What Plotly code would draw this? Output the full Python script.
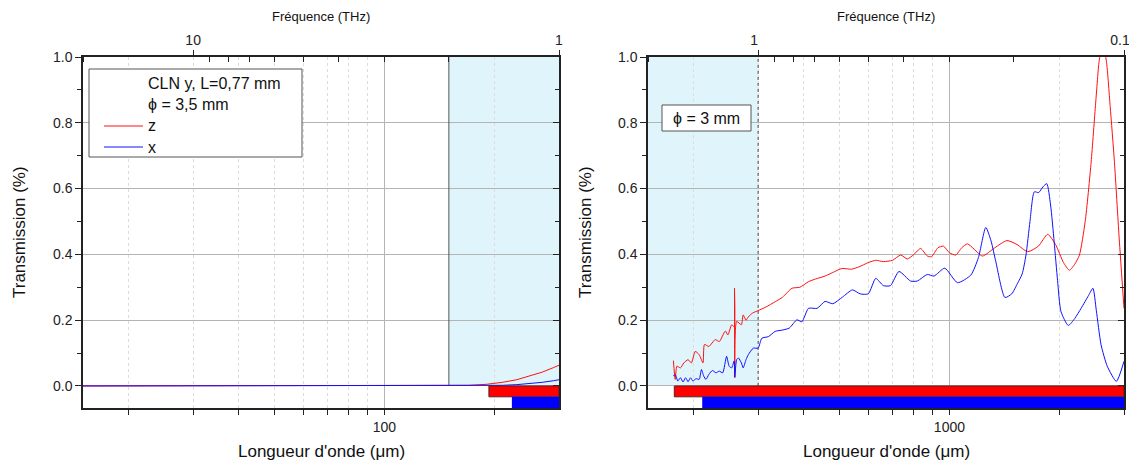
import math
import plotly.graph_objects as go

# ---------------- data ----------------
# Left panel (wavelength in µm, transmission)
lam_left = [15, 20, 30, 50, 80, 120, 150, 170, 190, 210, 230, 250, 270, 290, 300]
z_left = [0.0, 0.0, 0.0, 0.0, 0.0, 0.0, 0.0, 0.002, 0.005, 0.011, 0.019, 0.030, 0.042, 0.056, 0.063]
x_left = [0.0, 0.0, 0.0, 0.0, 0.0, 0.0, 0.0, 0.0, 0.001, 0.002, 0.004, 0.007, 0.011, 0.016, 0.019]

# Right panel, z polarisation
lam_z_right = [176, 178, 180, 184, 188, 193, 197, 202, 207, 212, 214, 220, 229, 235, 244, 248, 254,
               258, 258.5, 259, 262, 270, 273, 278, 282, 290, 300, 315, 334, 350, 371, 390, 412,
               430, 457, 480, 508, 540, 566, 600, 629, 660, 699, 736, 767, 800, 834, 870, 893,
               930, 963, 1000, 1041, 1080, 1120, 1170, 1231, 1330, 1436, 1530, 1636, 1750, 1856,
               1950, 2050, 2128, 2200, 2266, 2350, 2440, 2510, 2570, 2622, 2680, 2750, 2825,
               2910, 3000]
z_right = [0.077, 0.02, 0.06, 0.055, 0.07, 0.08, 0.07, 0.105, 0.095, 0.07, 0.126, 0.12, 0.141,
           0.135, 0.167, 0.155, 0.186, 0.18, 0.297, 0.025, 0.196, 0.186, 0.216, 0.20, 0.21,
           0.222, 0.229, 0.24, 0.256, 0.27, 0.297, 0.30, 0.317, 0.325, 0.334, 0.345, 0.357,
           0.355, 0.362, 0.375, 0.382, 0.378, 0.382, 0.398, 0.386, 0.40, 0.418, 0.395, 0.393,
           0.42, 0.425, 0.405, 0.398, 0.42, 0.432, 0.415, 0.395, 0.42, 0.442, 0.43, 0.408,
           0.425, 0.461, 0.43, 0.375, 0.352, 0.37, 0.398, 0.5, 0.681, 0.86, 0.994, 1.03,
           0.994, 0.85, 0.68, 0.45, 0.236]

# Right panel, x polarisation
lam_x_right = [176, 178, 181, 184, 187, 190, 193, 196, 199, 203, 207, 210, 213, 216, 220, 225,
               230, 235, 240, 246, 250, 254, 258, 259, 262, 265, 270, 273, 278, 282, 291, 300,
               307, 320, 334, 350, 365, 383, 395, 412, 435, 457, 480, 510, 543, 570, 600, 629,
               660, 690, 728, 783, 817, 870, 907, 971, 1052, 1144, 1200, 1257, 1300, 1339,
               1418, 1480, 1535, 1580, 1619, 1660, 1706, 1754, 1800, 1845, 1890, 1933, 1975,
               2018, 2113, 2200, 2290, 2400, 2467, 2520, 2597, 2700, 2859, 3000]
x_right = [0.03, 0.035, 0.015, 0.025, 0.012, 0.025, 0.013, 0.025, 0.015, 0.022, 0.02, 0.05,
           0.03, 0.02, 0.035, 0.047, 0.04, 0.045, 0.04, 0.09, 0.06, 0.055, 0.076, 0.027, 0.08,
           0.085, 0.07, 0.055, 0.08, 0.095, 0.115, 0.115, 0.145, 0.15, 0.166, 0.17, 0.176,
           0.201, 0.195, 0.236, 0.236, 0.257, 0.25, 0.27, 0.292, 0.28, 0.28, 0.327, 0.305,
           0.305, 0.348, 0.319, 0.319, 0.339, 0.334, 0.358, 0.314, 0.337, 0.39, 0.482, 0.44,
           0.378, 0.269, 0.28, 0.312, 0.34, 0.398, 0.5, 0.59, 0.588, 0.605, 0.615, 0.55,
           0.438, 0.32, 0.226, 0.184, 0.205, 0.236, 0.275, 0.297, 0.23, 0.125, 0.06, 0.014,
           0.075]

# Shaded regions (µm) and measurement-range bars (µm)
shade_left = [150, 300]
shade_right = [150, 300]
bar_z_left = [193, 300]
bar_x_left = [223, 300]
bar_z_right = [177, 3000]
bar_x_right = [211, 3000]

# Axis ranges and ticks
range_left = [15, 300]
range_right = [150, 3000]
y_range = [-0.067, 1.0]
y_major = [0.0, 0.2, 0.4, 0.6, 0.8, 1.0]
y_minor = [0.1, 0.3, 0.5, 0.7, 0.9]
bottom_major_left = [100]
bottom_minor_left = [20, 30, 40, 50, 60, 70, 80, 90, 200]
bottom_major_right = [1000]
bottom_minor_right = [200, 300, 400, 500, 600, 700, 800, 900, 2000, 3000]
freq_major_left = [10, 1]
freq_minor_left = [20, 9, 8, 7, 6, 5, 4, 3, 2]
freq_major_right = [1, 0.1]
freq_minor_right = [2, 0.9, 0.8, 0.7, 0.6, 0.5, 0.4, 0.3, 0.2]

# ---------------- layout helpers ----------------
OFF = 8                      # page body margin in the browser
WIN_W, WIN_H = 1137, 468
W, H = WIN_W - OFF, WIN_H - 2 * OFF
ML, MR, MT = 83 - OFF, 13, 57 - OFF
MB = H - (408 - OFF)
PW = W - ML - MR
PH = H - MT - MB


def px(xp):  # window pixel -> paper x
    return (xp - OFF - ML) / PW


def py(yp):  # window pixel -> paper y
    return (H - MB - (yp - OFF)) / PH


FONT = "Liberation Sans, Arial, sans-serif"
RED = "#ff1010"
BLUE = "#1010ff"
AXC = "#222222"

fig = go.Figure()

fig.add_trace(go.Scatter(x=lam_left, y=z_left, mode="lines", line=dict(color=RED, width=1),
                         xaxis="x", yaxis="y", showlegend=False, name="z"))
fig.add_trace(go.Scatter(x=lam_left, y=x_left, mode="lines", line=dict(color=BLUE, width=1),
                         xaxis="x", yaxis="y", showlegend=False, name="x"))
fig.add_trace(go.Scatter(x=lam_z_right, y=z_right, mode="lines",
                         line=dict(color=RED, width=1, shape="spline", smoothing=0.6),
                         xaxis="x2", yaxis="y2", showlegend=False, name="z"))
fig.add_trace(go.Scatter(x=lam_x_right, y=x_right, mode="lines",
                         line=dict(color=BLUE, width=1, shape="spline", smoothing=0.6),
                         xaxis="x2", yaxis="y2", showlegend=False, name="x"))

# invisible carrier traces so that the overlaid (top / right) axes get drawn
for xa, ya, rng in (("x3", "y", range_left), ("x4", "y2", range_right),
                    ("x", "y3", range_left), ("x2", "y4", range_right)):
    fig.add_trace(go.Scatter(x=rng, y=[0.5, 0.5], mode="lines", opacity=0,
                             line=dict(width=0), hoverinfo="skip", showlegend=False,
                             xaxis=xa, yaxis=ya))

dom_left = [0, px(559)]
dom_right = [px(648), 1]


def log_range(r):
    return [math.log10(r[0]), math.log10(r[1])]


def bottom_axis(dom, rng, major, minor, anchor):
    return dict(domain=dom, type="log", range=log_range(rng), anchor=anchor,
                automargin=False,
                tickmode="array", tickvals=major, ticktext=[str(v) for v in major],
                ticks="outside", ticklen=5, tickwidth=1.2, tickcolor=AXC,
                showline=True, linecolor=AXC, linewidth=1.5,
                showgrid=True, gridcolor="#b4b4b4", gridwidth=1,
                tickfont=dict(family=FONT, size=14, color="#222"),
                minor=dict(tickmode="array", tickvals=minor, ticks="outside", ticklen=5,
                           tickwidth=1.2, tickcolor=AXC, showgrid=True,
                           gridcolor="#dcdcdc", griddash="dot", gridwidth=1),
                zeroline=False)


def top_axis(rng, fmajor, fminor, overlay, anchor, shift=0):
    return dict(type="log", range=log_range(rng), overlaying=overlay, side="top",
                anchor=anchor, automargin=False, tickmode="array",
                ticklabeloverflow="allow", ticklabelshift=shift,
                tickvals=[300 / f for f in fmajor], ticktext=[str(f) for f in fmajor],
                ticks="outside", ticklen=5, tickwidth=1.2, tickcolor=AXC,
                showline=True, linecolor=AXC, linewidth=1.5, showgrid=False,
                tickfont=dict(family=FONT, size=14, color="#222"),
                minor=dict(tickmode="array", tickvals=[300 / f for f in fminor],
                           ticks="inside", ticklen=5, tickwidth=1.2, tickcolor=AXC,
                           showgrid=False),
                zeroline=False)


def left_y(anchor):
    return dict(domain=[0, 1], range=y_range, anchor=anchor, tickmode="array",
                automargin=False,
                tickvals=y_major, ticktext=["%.1f" % v for v in y_major],
                ticks="outside", ticklen=6, tickwidth=1.2, tickcolor=AXC,
                showline=True, linecolor=AXC, linewidth=1.5,
                showgrid=True, gridcolor="#b4b4b4", gridwidth=1,
                tickfont=dict(family=FONT, size=14, color="#222"),
                minor=dict(tickmode="array", tickvals=y_minor, ticks="outside", ticklen=4,
                           tickwidth=1.2, tickcolor=AXC, showgrid=False),
                zeroline=False)


def right_y(overlay, anchor):
    return dict(range=y_range, overlaying=overlay, side="right", anchor=anchor,
                automargin=False,
                tickmode="array", tickvals=y_major, showticklabels=False,
                ticks="inside", ticklen=6, tickwidth=1.2, tickcolor=AXC,
                showline=True, linecolor=AXC, linewidth=1.5, showgrid=False,
                minor=dict(tickmode="array", tickvals=y_minor, ticks="inside", ticklen=4,
                           tickwidth=1.2, tickcolor=AXC, showgrid=False),
                zeroline=False)


fig.update_layout(
    width=W, height=H,
    margin=dict(l=ML, r=MR, t=MT, b=MB, autoexpand=False),
    paper_bgcolor="white", plot_bgcolor="white",
    font=dict(family=FONT, color="#222"),
    showlegend=False,
    xaxis=bottom_axis(dom_left, range_left, bottom_major_left, bottom_minor_left, "y"),
    xaxis2=bottom_axis(dom_right, range_right, bottom_major_right, bottom_minor_right, "y2"),
    xaxis3=top_axis(range_left, freq_major_left, freq_minor_left, "x", "y"),
    xaxis4=top_axis(range_right, freq_major_right, freq_minor_right, "x2", "y2", shift=-4),
    yaxis=left_y("x"),
    yaxis2=left_y("x2"),
    yaxis3=right_y("y", "x"),
    yaxis4=right_y("y2", "x2"),
)

shapes = []
# shaded regions (below grid)
shapes.append(dict(type="rect", xref="x", yref="y", x0=shade_left[0], x1=shade_left[1],
                   y0=0, y1=y_range[1], fillcolor="#e0f4fb", line=dict(width=0), layer="below"))
shapes.append(dict(type="rect", xref="x2", yref="y2", x0=shade_right[0], x1=shade_right[1],
                   y0=0, y1=y_range[1], fillcolor="#e0f4fb", line=dict(width=0), layer="below"))
shapes.append(dict(type="line", xref="x", yref="y", x0=shade_left[0], x1=shade_left[0],
                   y0=0, y1=y_range[1], line=dict(color="#555", width=1), layer="between"))
shapes.append(dict(type="line", xref="x2", yref="y2", x0=shade_right[1], x1=shade_right[1],
                   y0=0, y1=y_range[1], line=dict(color="#444", width=1, dash="dot"),
                   layer="between"))
# measurement-range bars
for xr, yr, b in (("x", "y", bar_z_left), ("x2", "y2", bar_z_right)):
    shapes.append(dict(type="rect", xref=xr, yref=yr, x0=b[0], x1=b[1], y0=0, y1=-0.033,
                       fillcolor="#ff0000", line=dict(color="#5a2020", width=1), layer="above"))
for xr, yr, b in (("x", "y", bar_x_left), ("x2", "y2", bar_x_right)):
    shapes.append(dict(type="rect", xref=xr, yref=yr, x0=b[0], x1=b[1], y0=-0.033,
                       y1=y_range[0], fillcolor="#0000ff", line=dict(width=0), layer="above"))
# legend box (left)
shapes.append(dict(type="rect", xref="paper", yref="paper", x0=px(89), x1=px(302),
                   y0=py(157), y1=py(69), fillcolor="white",
                   line=dict(color="#555", width=1), layer="above"))
shapes.append(dict(type="line", xref="paper", yref="paper", x0=px(104), x1=px(143),
                   y0=py(126), y1=py(126), line=dict(color=RED, width=1), layer="above"))
shapes.append(dict(type="line", xref="paper", yref="paper", x0=px(104), x1=px(143),
                   y0=py(147), y1=py(147), line=dict(color=BLUE, width=1), layer="above"))
# phi box (right)
shapes.append(dict(type="rect", xref="paper", yref="paper", x0=px(662), x1=px(751),
                   y0=py(131), y1=py(105), fillcolor="white",
                   line=dict(color="#555", width=1), layer="above"))
fig.update_layout(shapes=shapes)

ann = []


def txt(t, x, y, size, xanchor="left", angle=0):
    ann.append(dict(text=t, x=x, y=y, xref="paper", yref="paper", showarrow=False,
                    xanchor=xanchor, yanchor="middle", textangle=angle,
                    font=dict(family=FONT, size=size, color="#111")))


txt("CLN y, L=0,77 mm", px(146), py(84), 16)
txt("ϕ = 3,5 mm", px(146), py(105), 16)
txt("z", px(146), py(126), 16)
txt("x", px(146), py(147), 16)
txt("ϕ = 3 mm", px(671), py(118), 16)

txt("Fréquence (THz)", (dom_left[0] + dom_left[1]) / 2, py(16), 13, "center")
txt("Fréquence (THz)", (dom_right[0] + dom_right[1]) / 2, py(16), 13, "center")
txt("Longueur d'onde (μm)", (dom_left[0] + dom_left[1]) / 2, py(451), 17, "center")
txt("Longueur d'onde (μm)", (dom_right[0] + dom_right[1]) / 2, py(451), 17, "center")
txt("Transmission (%)", px(19), py(232), 17, "center", -90)
txt("Transmission (%)", px(585), py(232), 17, "center", -90)
fig.update_layout(annotations=ann)

fig.write_html("out.html")
